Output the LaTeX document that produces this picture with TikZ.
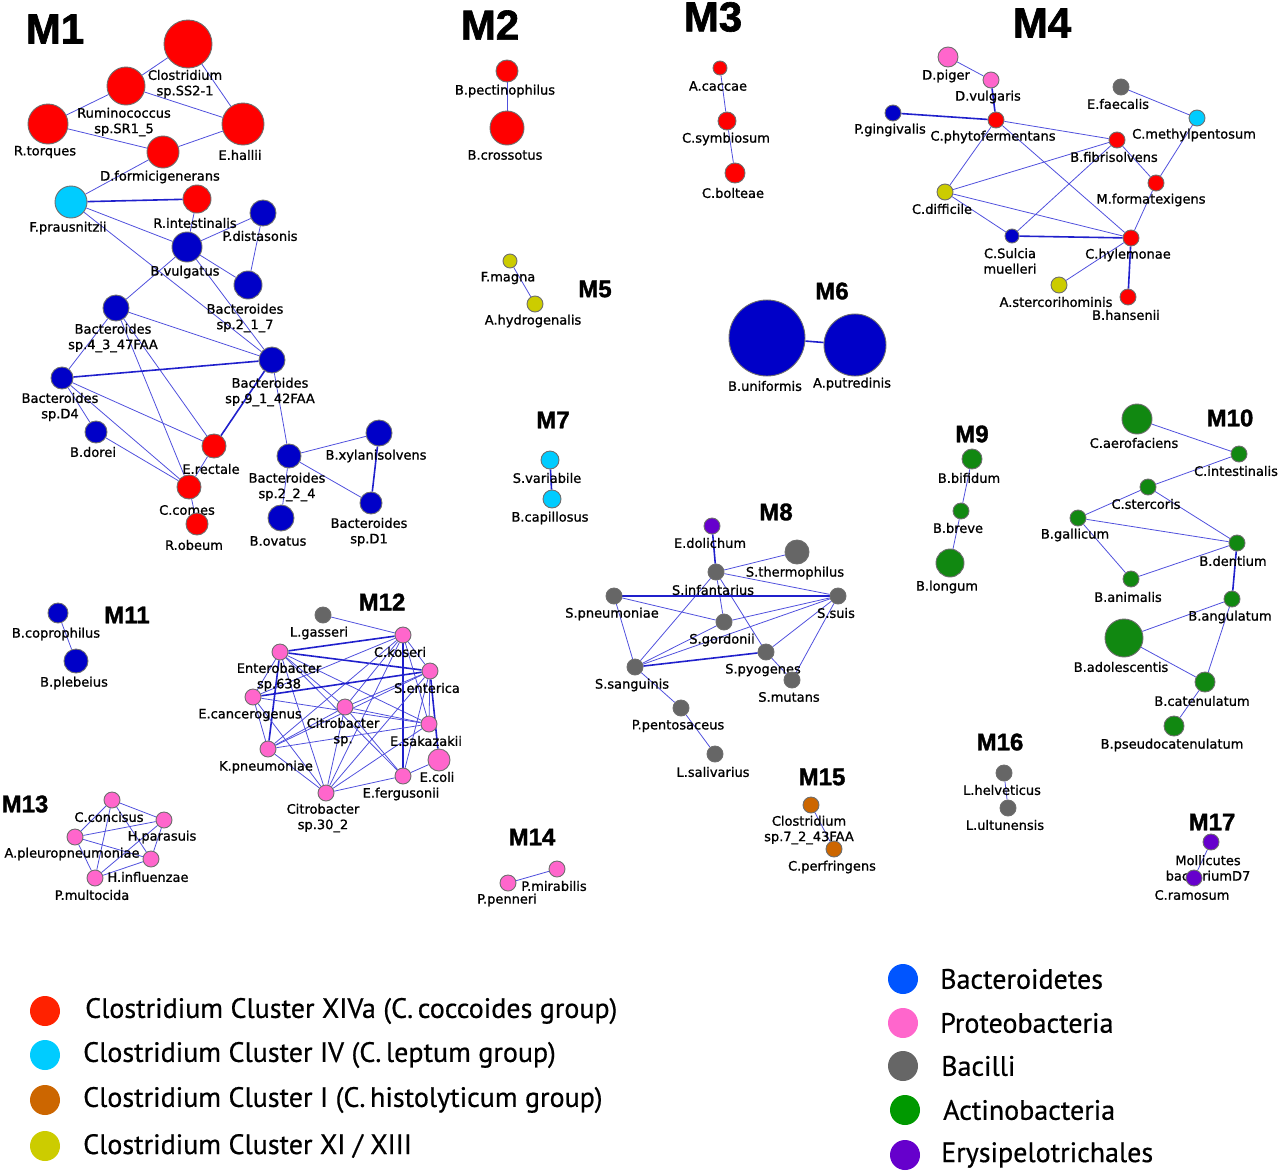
\documentclass[tikz,border=0pt]{standalone}
\usepackage{fontspec}
\setmainfont{DejaVu Sans}
\newfontfamily\labfont[FakeBold=1.1]{DejaVu Sans}
\newfontfamily\titfont[BoldFeatures={FakeBold=1.5}]{Liberation Sans}
\newfontfamily\legfont[FakeBold=0.6]{PT Sans}
\usetikzlibrary{backgrounds}
\definecolor{cred}{HTML}{FF0000}
\definecolor{ccyan}{HTML}{00CCFF}
\definecolor{cblue}{HTML}{0000C8}
\definecolor{cpink}{HTML}{FF66CC}
\definecolor{cgray}{HTML}{666666}
\definecolor{cgreen}{HTML}{118811}
\definecolor{cpurple}{HTML}{6600CC}
\definecolor{cyell}{HTML}{CCCC00}
\definecolor{corange}{HTML}{CC6600}
\definecolor{lred}{HTML}{FF2200}
\definecolor{lblue}{HTML}{0055FF}
\definecolor{lgreen}{HTML}{009900}
\definecolor{edgec}{HTML}{5050DD}
\definecolor{edgek}{HTML}{2020CC}
\definecolor{outl}{HTML}{6E6E6E}
\tikzset{
  nd/.style={circle, draw=outl, line width=0.9pt, inner sep=0pt},
  lab/.style={font=\labfont\fontsize{13}{15.5}\selectfont, align=center, inner sep=0pt},
  ed/.style={draw=edgec, line width=0.8pt},
  edk/.style={draw=edgek, line width=1.6pt},
  tit/.style={font=\titfont\bfseries\fontsize{24}{24}\selectfont, inner sep=0pt},
  titL/.style={font=\titfont\bfseries\fontsize{42}{42}\selectfont, inner sep=0pt},
  legc/.style={circle, minimum size=30pt, inner sep=0pt},
  legt/.style={font=\legfont\fontsize{28}{30}\selectfont, anchor=west, inner sep=0pt}
}
\newcommand\Nd[6]{\node[nd,fill=#2,minimum size=#3pt] (#1) at (#4) {}; \node[lab] (#1-l) at (#5) {#6};}
\newcommand\E[2]{\draw[ed] (#1) -- (#2);}
\newcommand\K[2]{\draw[edk] (#1) -- (#2);}
\begin{document}
\begin{tikzpicture}[x=1pt,y=-1pt]
\useasboundingbox (0,0) rectangle (1280,1173);
% titles
\node[titL] (t1) at (55,29) {M1};
\node[titL] (t2) at (490,25) {M2};
\node[titL] (t3) at (713,17) {M3};
\node[titL] (t4) at (1042,23) {M4};
\node[tit] (t5) at (595,289) {M5};
\node[tit] (t6) at (832,291) {M6};
\node[tit] (t7) at (553,420) {M7};
\node[tit] (t8) at (776,512) {M8};
\node[tit] (t9) at (972,434) {M9};
\node[tit] (t10) at (1230,418) {M10};
\node[tit] (t11) at (127,615) {M11};
\node[tit] (t12) at (382,602) {M12};
\node[tit] (t13) at (25,804) {M13};
\node[tit] (t14) at (532,837) {M14};
\node[tit] (t15) at (822,777) {M15};
\node[tit] (t16) at (1000,742) {M16};
\node[tit] (t17) at (1212,822) {M17};
% M1
\Nd{css}{cred}{48}{188,44}{185,84}{Clostridium\\sp.SS2-1}
\Nd{rum}{cred}{38}{126,86}{124,122}{Ruminococcus\\sp.SR1\_5}
\Nd{rto}{cred}{40}{48,124}{45,152}{R.torques}
\Nd{eha}{cred}{42}{243,124}{240,155}{E.hallii}
\Nd{dfo}{cred}{32}{163,152}{160,177}{D.formicigenerans}
\Nd{fpr}{ccyan}{32}{71,202}{68,228}{F.prausnitzii}
\Nd{rin}{cred}{28}{197,199}{195,223}{R.intestinalis}
\Nd{pdi}{cblue}{26}{263,213}{260,236}{P.distasonis}
\Nd{bvu}{cblue}{30}{187,247}{185,272}{B.vulgatus}
\Nd{b217}{cblue}{28}{248,285}{245,318}{Bacteroides\\sp.2\_1\_7}
\Nd{b43}{cblue}{26}{116,308}{113,338}{Bacteroides\\sp.4\_3\_47FAA}
\Nd{b91}{cblue}{26}{272,360}{270,392}{Bacteroides\\sp.9\_1\_42FAA}
\Nd{bd4}{cblue}{22}{62,378}{60,407}{Bacteroides\\sp.D4}
\Nd{bdo}{cblue}{22}{96,432}{93,452}{B.dorei}
\Nd{ere}{cred}{24}{214,446}{211,469}{E.rectale}
\Nd{cco}{cred}{24}{189,487}{187,510}{C.comes}
\Nd{rob}{cred}{22}{197,524}{194,545}{R.obeum}
\Nd{b224}{cblue}{24}{289,456}{287,487}{Bacteroides\\sp.2\_2\_4}
\Nd{bxy}{cblue}{26}{379,433}{376,456}{B.xylanisolvens}
\Nd{bdi}{cblue}{22}{371,503}{369,532}{Bacteroides\\sp.D1}
\Nd{bov}{cblue}{26}{281,518}{278,541}{B.ovatus}
% M2
\Nd{bpe}{cred}{22}{507,71}{505,91}{B.pectinophilus}
\Nd{bcr}{cred}{34}{507,128}{505,155}{B.crossotus}
% M3
\Nd{aca}{cred}{14}{720,68}{718,86}{A.caccae}
\Nd{csy}{cred}{18}{727,121}{726,139}{C.symbiosum}
\Nd{cbo}{cred}{20}{735,173}{733,193}{C.bolteae}
% M4
\Nd{dpi}{cpink}{20}{948,57}{946,76}{D.piger}
\Nd{dvu}{cpink}{16}{991,80}{988,97}{D.vulgaris}
\Nd{pgi}{cblue}{16}{893,113}{890,130}{P.gingivalis}
\Nd{cph}{cred}{16}{996,120}{993,137}{C.phytofermentans}
\Nd{efa}{cgray}{16}{1121,87}{1118,104}{E.faecalis}
\Nd{cme}{ccyan}{16}{1197,118}{1194,135}{C.methylpentosum}
\Nd{bfi}{cred}{16}{1117,140}{1114,157}{B.fibrisolvens}
\Nd{mfo}{cred}{16}{1156,183}{1151,200}{M.formatexigens}
\Nd{cdi}{cyell}{16}{945,192}{942,209}{C.difficile}
\Nd{csu}{cblue}{14}{1012,236}{1010,261}{C.Sulcia\\muelleri}
\Nd{chy}{cred}{16}{1131,238}{1128,255}{C.hylemonae}
\Nd{ast}{cyell}{16}{1059,285}{1056,302}{A.stercorihominis}
\Nd{bha}{cred}{16}{1128,297}{1126,315}{B.hansenii}
% M5
\Nd{fma}{cyell}{14}{510,261}{508,278}{F.magna}
\Nd{ahy}{cyell}{16}{535,304}{533,321}{A.hydrogenalis}
% M6
\Nd{bun}{cblue}{76}{767,338}{765,386}{B.uniformis}
\Nd{apu}{cblue}{62}{855,345}{852,384}{A.putredinis}
% M7
\Nd{sva}{ccyan}{18}{550,460}{547,478}{S.variabile}
\Nd{bca}{ccyan}{18}{552,499}{550,518}{B.capillosus}
% M8
\Nd{edo}{cpurple}{16}{712,526}{710,543}{E.dolichum}
\Nd{sin}{cgray}{16}{716,572}{713,590}{S.infantarius}
\Nd{sth}{cgray}{24}{797,552}{795,573}{S.thermophilus}
\Nd{spn}{cgray}{16}{614,596}{612,614}{S.pneumoniae}
\Nd{ssu}{cgray}{16}{838,596}{836,613}{S.suis}
\Nd{sgo}{cgray}{16}{724,622}{722,640}{S.gordonii}
\Nd{spy}{cgray}{16}{766,652}{763,670}{S.pyogenes}
\Nd{ssa}{cgray}{16}{635,667}{632,685}{S.sanguinis}
\Nd{smu}{cgray}{16}{792,680}{789,697}{S.mutans}
\Nd{ppe}{cgray}{16}{681,708}{678,726}{P.pentosaceus}
\Nd{lsa}{cgray}{16}{715,754}{713,772}{L.salivarius}
% M9
\Nd{bbi}{cgreen}{20}{972,459}{969,478}{B.bifidum}
\Nd{bbr}{cgreen}{16}{961,511}{958,528}{B.breve}
\Nd{blo}{cgreen}{28}{950,563}{947,587}{B.longum}
% M10
\Nd{cae}{cgreen}{30}{1137,419}{1134,443}{C.aerofaciens}
\Nd{cin}{cgreen}{16}{1239,454}{1236,471}{C.intestinalis}
\Nd{cst}{cgreen}{16}{1148,487}{1146,504}{C.stercoris}
\Nd{bga}{cgreen}{16}{1078,518}{1075,535}{B.gallicum}
\Nd{bde}{cgreen}{16}{1237,543}{1233,561}{B.dentium}
\Nd{ban}{cgreen}{16}{1131,579}{1128,597}{B.animalis}
\Nd{bang}{cgreen}{16}{1232,599}{1230,617}{B.angulatum}
\Nd{bad}{cgreen}{38}{1124,638}{1121,667}{B.adolescentis}
\Nd{bcat}{cgreen}{20}{1205,682}{1202,701}{B.catenulatum}
\Nd{bps}{cgreen}{20}{1174,726}{1172,745}{B.pseudocatenulatum}
% M11
\Nd{bcp}{cblue}{20}{58,613}{56,634}{B.coprophilus}
\Nd{bpl}{cblue}{24}{76,661}{74,683}{B.plebeius}
% M12
\Nd{lga}{cgray}{16}{323,615}{319,633}{L.gasseri}
\Nd{cko}{cpink}{16}{403,635}{400,652}{C.koseri}
\Nd{ent}{cpink}{16}{280,652}{279,677}{Enterobacter\\sp.638}
\Nd{sen}{cpink}{16}{430,671}{427,688}{S.enterica}
\Nd{eca}{cpink}{16}{253,697}{250,715}{E.cancerogenus}
\Nd{cit}{cpink}{16}{345,707}{343,732}{Citrobacter\\sp.}
\Nd{esa}{cpink}{16}{429,724}{426,741}{E.sakazakii}
\Nd{kpn}{cpink}{16}{268,749}{266,767}{K.pneumoniae}
\Nd{eco}{cpink}{22}{439,760}{437,777}{E.coli}
\Nd{efe}{cpink}{16}{403,776}{401,794}{E.fergusonii}
\Nd{ctt}{cpink}{16}{326,793}{323,818}{Citrobacter\\sp.30\_2}
% M13
\Nd{cci}{cpink}{16}{112,800}{109,817}{C.concisus}
\Nd{hpa}{cpink}{16}{164,820}{162,837}{H.parasuis}
\Nd{apl}{cpink}{16}{75,837}{72,854}{A.pleuropneumoniae}
\Nd{hin}{cpink}{16}{151,859}{148,877}{H.influenzae}
\Nd{pmu}{cpink}{16}{95,878}{92,895}{P.multocida}
% M14
\Nd{pmi}{cpink}{16}{557,869}{554,886}{P.mirabilis}
\Nd{ppn}{cpink}{16}{508,883}{507,900}{P.penneri}
% M15
\Nd{c72}{corange}{16}{811,805}{809,830}{Clostridium\\sp.7\_2\_43FAA}
\Nd{cpe}{corange}{16}{834,849}{832,867}{C.perfringens}
% M16
\Nd{lhe}{cgray}{16}{1004,773}{1002,790}{L.helveticus}
\Nd{lul}{cgray}{16}{1008,808}{1005,825}{L.ultunensis}
% M17
\Nd{mol}{cpurple}{16}{1211,842}{1208,868}{Mollicutes\\bacteriumD7}
\Nd{cra}{cpurple}{16}{1194,878}{1192,895}{C.ramosum}
% edges
\begin{pgfonlayer}{background}
\E{css}{rum}\E{css}{eha}\E{rum}{rto}\E{rum}{eha}\E{rto}{dfo}\E{dfo}{eha}\E{dfo}{fpr}
\K{fpr}{rin}\E{fpr}{bvu}\E{fpr}{b91}\E{bvu}{rin}\E{bvu}{pdi}\E{bvu}{b217}\E{bvu}{b43}\E{bvu}{b91}
\E{pdi}{b217}\E{b43}{b91}\E{b43}{bd4}\E{b43}{ere}\E{b43}{cco}\K{bd4}{b91}\E{bd4}{ere}\E{bd4}{cco}
\E{bd4}{bdo}\E{bdo}{cco}\K{ere}{b91}\E{ere}{cco}\E{cco}{rob}\E{b91}{b224}\E{b224}{bxy}\E{b224}{bdi}
\K{bxy}{bdi}\E{b224}{bov}
\E{bpe}{bcr}
\E{aca}{csy}\E{csy}{cbo}
\E{dpi}{dvu}\K{dvu}{cph}\K{pgi}{cph}\E{cph}{bfi}\E{cph}{cdi}\E{cph}{chy}\E{efa}{cme}\E{cme}{mfo}
\E{bfi}{cdi}\E{bfi}{csu}\E{bfi}{mfo}\E{mfo}{chy}\E{cdi}{chy}\E{cdi}{csu}\K{csu}{chy}\E{chy}{ast}\K{chy}{bha}
\E{fma}{ahy}
\K{bun}{apu}
\K{sva}{bca}
\K{edo}{sin}\E{sin}{sth}\E{sin}{ssu}\E{sin}{sgo}\E{sin}{ssa}\E{sin}{spy}\K{spn}{ssu}\E{spn}{sgo}
\E{spn}{ssa}\E{ssu}{sgo}\E{ssu}{ssa}\E{ssu}{spy}\E{ssu}{smu}\E{ssa}{sgo}\K{ssa}{spy}\E{spy}{smu}
\E{ssa}{ppe}\E{ppe}{lsa}
\E{bbi}{bbr}\E{bbr}{blo}
\E{cae}{cin}\E{cin}{cst}\E{cst}{bga}\E{cst}{bde}\E{bga}{bde}\E{bga}{ban}\E{ban}{bde}\K{bde}{bang}
\E{bang}{bad}\E{bang}{bcat}\E{bad}{bcat}\E{bcat}{bps}
\E{bcp}{bpl}
\E{lga}{cko}\K{ent}{cko}\K{ent}{sen}\K{ent}{kpn}\E{ent}{eca}\E{ent}{cit}\E{ent}{esa}\E{ent}{efe}\E{ent}{ctt}
\E{cko}{eca}\E{cko}{cit}\E{cko}{kpn}\E{cko}{sen}\E{cko}{esa}\K{cko}{efe}\E{cko}{ctt}
\K{sen}{eca}\E{sen}{cit}\E{sen}{kpn}\E{sen}{esa}\K{sen}{eco}\E{sen}{efe}\E{sen}{ctt}
\E{eca}{kpn}\E{eca}{esa}\E{eca}{ctt}\E{cit}{kpn}\E{cit}{ctt}\E{cit}{efe}\E{cit}{esa}
\E{kpn}{esa}\E{kpn}{ctt}\E{esa}{ctt}\E{efe}{ctt}\E{efe}{eco}
\E{cci}{hpa}\E{cci}{apl}\E{cci}{hin}\E{cci}{pmu}\E{hpa}{apl}\E{hpa}{hin}\E{hpa}{pmu}\E{apl}{hin}\E{apl}{pmu}\E{hin}{pmu}
\E{pmi}{ppn}
\E{c72}{cpe}
\E{lhe}{lul}
\E{mol}{cra}
\end{pgfonlayer}
% legend
\node[legc,fill=lred] (lg1) at (45,1011) {};
\node[legt] (lt1) at (85,1011) {Clostridium Cluster XIVa (C.\,coccoides group)};
\node[legc,fill=ccyan] (lg2) at (45,1055) {};
\node[legt] (lt2) at (83,1055) {Clostridium Cluster IV (C.\,leptum group)};
\node[legc,fill=corange] (lg3) at (45,1100) {};
\node[legt] (lt3) at (83,1100) {Clostridium Cluster I (C.\,histolyticum group)};
\node[legc,fill=cyell] (lg4) at (45,1146) {};
\node[legt] (lt4) at (83,1146) {Clostridium Cluster XI / XIII};
\node[legc,fill=lblue] (lg5) at (903,979) {};
\node[legt] (lt5) at (940,979) {Bacteroidetes};
\node[legc,fill=cpink] (lg6) at (903,1023) {};
\node[legt] (lt6) at (940,1023) {Proteobacteria};
\node[legc,fill=cgray] (lg7) at (903,1066) {};
\node[legt] (lt7) at (941,1066) {Bacilli};
\node[legc,fill=lgreen] (lg8) at (905,1110) {};
\node[legt] (lt8) at (943,1110) {Actinobacteria};
\node[legc,fill=cpurple] (lg9) at (905,1155) {};
\node[legt] (lt9) at (941,1155) {Erysipelotrichales};
\end{tikzpicture}
\end{document}
